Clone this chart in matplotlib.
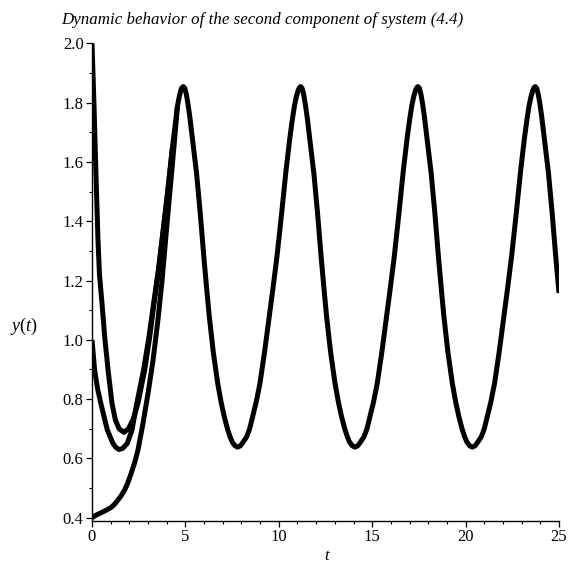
import matplotlib
matplotlib.use("Agg")
import matplotlib.pyplot as plt
from matplotlib.ticker import MultipleLocator

plt.rcParams['font.family'] = ['Liberation Serif', 'DejaVu Serif']
plt.rcParams['mathtext.fontset'] = 'custom'
plt.rcParams['mathtext.it'] = 'Liberation Serif:italic'
plt.rcParams['mathtext.rm'] = 'Liberation Serif'

title = "Dynamic behavior of the second component of system (4.4)"

# initial transients
t_a = [0, 0.11, 0.21, 0.32, 0.40, 0.535, 0.68, 0.86, 1.07, 1.25, 1.45, 1.71, 1.95,
       2.19, 2.46, 2.82, 3.09, 3.32, 3.57, 3.75, 4.0, 4.16, 4.30]
y_a = [2.0, 1.786, 1.562, 1.337, 1.22, 1.123, 1.01, 0.898, 0.786, 0.73, 0.70, 0.688, 0.70,
       0.73, 0.786, 0.898, 1.01, 1.123, 1.235, 1.337, 1.47, 1.562, 1.645]

t_b = [0, 0.14, 0.30, 0.47, 0.82, 1.12, 1.28, 1.45, 1.65, 1.89, 2.14, 2.40, 2.76, 3.05,
       3.30, 3.55, 3.75, 4.0, 4.16, 4.30]
y_b = [1.0, 0.898, 0.835, 0.786, 0.696, 0.651, 0.637, 0.630, 0.634, 0.651, 0.696, 0.786,
       0.898, 1.01, 1.123, 1.235, 1.337, 1.47, 1.562, 1.645]

t_c = [0, 0.25, 0.5, 0.75, 1.03, 1.2, 1.39, 1.55, 1.75, 1.9, 2.1, 2.28, 2.46, 2.73, 3.0,
       3.27, 3.53, 3.75, 4.0, 4.2, 4.4, 4.57]
y_c = [0.40, 0.41, 0.417, 0.425, 0.435, 0.445, 0.46, 0.473, 0.494, 0.515, 0.55, 0.585,
       0.628, 0.718, 0.82, 0.932, 1.067, 1.2, 1.38, 1.52, 1.66, 1.786]

# shared rise into the first peak
t_rise = [4.30, 4.45, 4.57, 4.67, 4.74, 4.81]
y_rise = [1.645, 1.725, 1.786, 1.82, 1.838, 1.85]

# peak times of the periodic regime
peak_t = [4.89, 11.17, 17.45, 23.73]

# one observed cycle of the periodic regime: time after a peak, value
cycle_dt = [0, 0.08, 0.16, 0.25, 0.35, 0.50, 0.71, 0.90, 1.11, 1.25, 1.27, 1.39, 1.60, 1.84,
            2.02, 2.19, 2.36, 2.50, 2.62, 2.76, 2.91, 3.06, 3.20, 3.39, 3.55, 3.71, 3.90,
            4.10, 4.35, 4.60, 4.80, 5.01, 5.25, 5.50, 5.70, 5.83, 5.95, 6.05, 6.15, 6.22]
cycle_y = [1.854, 1.848, 1.828, 1.795, 1.75, 1.67, 1.56, 1.43, 1.27, 1.17, 1.158, 1.078, 0.96,
           0.853, 0.79, 0.741, 0.70, 0.673, 0.655, 0.643, 0.638, 0.643, 0.655, 0.673, 0.70,
           0.741, 0.79, 0.853, 0.96, 1.078, 1.175, 1.28, 1.42, 1.573, 1.68, 1.741, 1.79,
           1.82, 1.842, 1.851]

t_p = list(t_rise)
y_p = list(y_rise)
for p in peak_t:
    for d, v in zip(cycle_dt, cycle_y):
        if p + d <= 25.0 + 1e-9:
            t_p.append(p + d)
            y_p.append(v)

fig = plt.figure(figsize=(5.78, 5.64), dpi=100)
ax = fig.add_axes([92/578, 1 - 520.7/564, (559 - 92)/578, (520.7 - 43.3)/564])

lw = 3.6
kw = dict(color='black', lw=lw, solid_capstyle='butt', solid_joinstyle='round')
ax.plot(t_a, y_a, **kw)
ax.plot(t_b, y_b, **kw)
ax.plot(t_c, y_c, **kw)
ax.plot(t_p, y_p, **kw)

ax.set_xlim(0, 25)
ax.set_ylim(0.39, 2.0)
ax.xaxis.set_major_locator(MultipleLocator(5))
ax.xaxis.set_minor_locator(MultipleLocator(1))
ax.yaxis.set_major_locator(MultipleLocator(0.2))
ax.yaxis.set_minor_locator(MultipleLocator(0.1))
ax.yaxis.set_major_formatter(plt.FuncFormatter(lambda v, p: f"{v:.1f}"))
for s in ['top', 'right']:
    ax.spines[s].set_visible(False)
for s in ['left', 'bottom']:
    ax.spines[s].set_linewidth(1.0)
ax.tick_params(which='major', direction='out', length=4, width=0.9, labelsize=12, pad=2)
ax.tick_params(which='minor', direction='out', length=2.5, width=0.8)

fig.text(262/578, 1 - 20/564, title, ha='center', va='center', fontsize=12.2, style='italic')
fig.text(327/578, 1 - 556/564, "$t$", ha='center', va='center', fontsize=12)
fig.text(24/578, 1 - 326/564, "$y(t)$", ha='center', va='center', fontsize=13)

fig.savefig("out.png", dpi=100)
